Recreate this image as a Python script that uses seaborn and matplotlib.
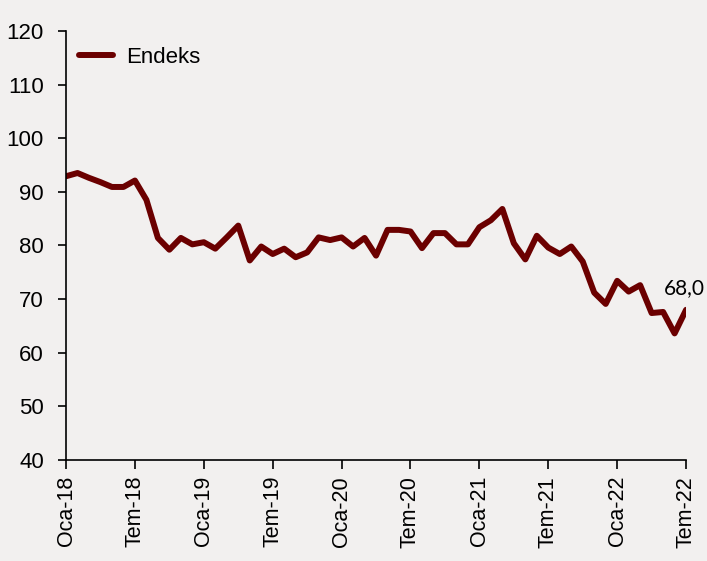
import pandas as pd
import seaborn as sns
import matplotlib.pyplot as plt

# Monthly index, Oca-18 .. Tem-22
months = list(range(55))
endeks = [92.9, 93.5, 92.6, 91.8, 90.9, 90.9, 92.1, 88.5, 81.4, 79.2,
          81.4, 80.2, 80.6, 79.4, 81.5, 83.7, 77.2, 79.8, 78.4, 79.4,
          77.8, 78.7, 81.5, 81.0, 81.5, 79.8, 81.4, 78.1, 82.9, 82.9,
          82.6, 79.5, 82.3, 82.3, 80.2, 80.2, 83.4, 84.7, 86.8, 80.4,
          77.4, 81.8, 79.6, 78.4, 79.8, 77.0, 71.2, 69.1, 73.4, 71.4,
          72.6, 67.4, 67.6, 63.6, 68.0]
tick_pos = list(range(0, 55, 6))
tick_labels = ['Oca-18', 'Tem-18', 'Oca-19', 'Tem-19', 'Oca-20',
               'Tem-20', 'Oca-21', 'Tem-21', 'Oca-22', 'Tem-22']
y_ticks = [40, 50, 60, 70, 80, 90, 100, 110, 120]

df = pd.DataFrame({'ay': months, 'Endeks': endeks})

bg = '#f2f0ef'
sns.set_style('ticks')
plt.rcParams['font.family'] = ['Liberation Sans', 'DejaVu Sans']
plt.rcParams['text.color'] = 'black'
plt.rcParams['xtick.color'] = 'black'
plt.rcParams['ytick.color'] = 'black'

fig = plt.figure(figsize=(7.07, 5.61), dpi=100, facecolor=bg)
ax = fig.add_axes([0.0934, 0.18, 0.877, 0.765])
ax.set_facecolor(bg)

sns.lineplot(data=df, x='ay', y='Endeks', ax=ax, color='#6b0000',
             linewidth=4.3, label='Endeks')

ax.set_xlim(0, 54)
ax.set_ylim(40, 120)
ax.set_xticks(tick_pos)
ax.set_xticklabels(tick_labels, rotation=90, fontsize=15.5)
ax.set_yticks(y_ticks)
ax.tick_params(axis='y', labelsize=16, length=6, width=1.2, pad=10,
               color='black', labelcolor='black')
ax.tick_params(axis='x', length=6.5, width=1.2, pad=5,
               color='black', labelcolor='black')
ax.set_xlabel('')
ax.set_ylabel('')
for s in ['top', 'right']:
    ax.spines[s].set_visible(False)
for s in ['left', 'bottom']:
    ax.spines[s].set_linewidth(1.2)
    ax.spines[s].set_color('black')

ax.annotate('68,0', (months[-1], endeks[-1]), xytext=(-16, 11),
            textcoords='offset points', fontsize=15, color='black',
            family=['Lato', 'DejaVu Sans'], annotation_clip=False)

leg = ax.legend(loc='upper left', frameon=False, fontsize=16,
                handlelength=1.5, handletextpad=0.6, borderaxespad=0.2,
                bbox_to_anchor=(0.0, 0.993))
for t in leg.get_texts():
    t.set_color('black')

fig.savefig('out.png', dpi=100, facecolor=bg)
